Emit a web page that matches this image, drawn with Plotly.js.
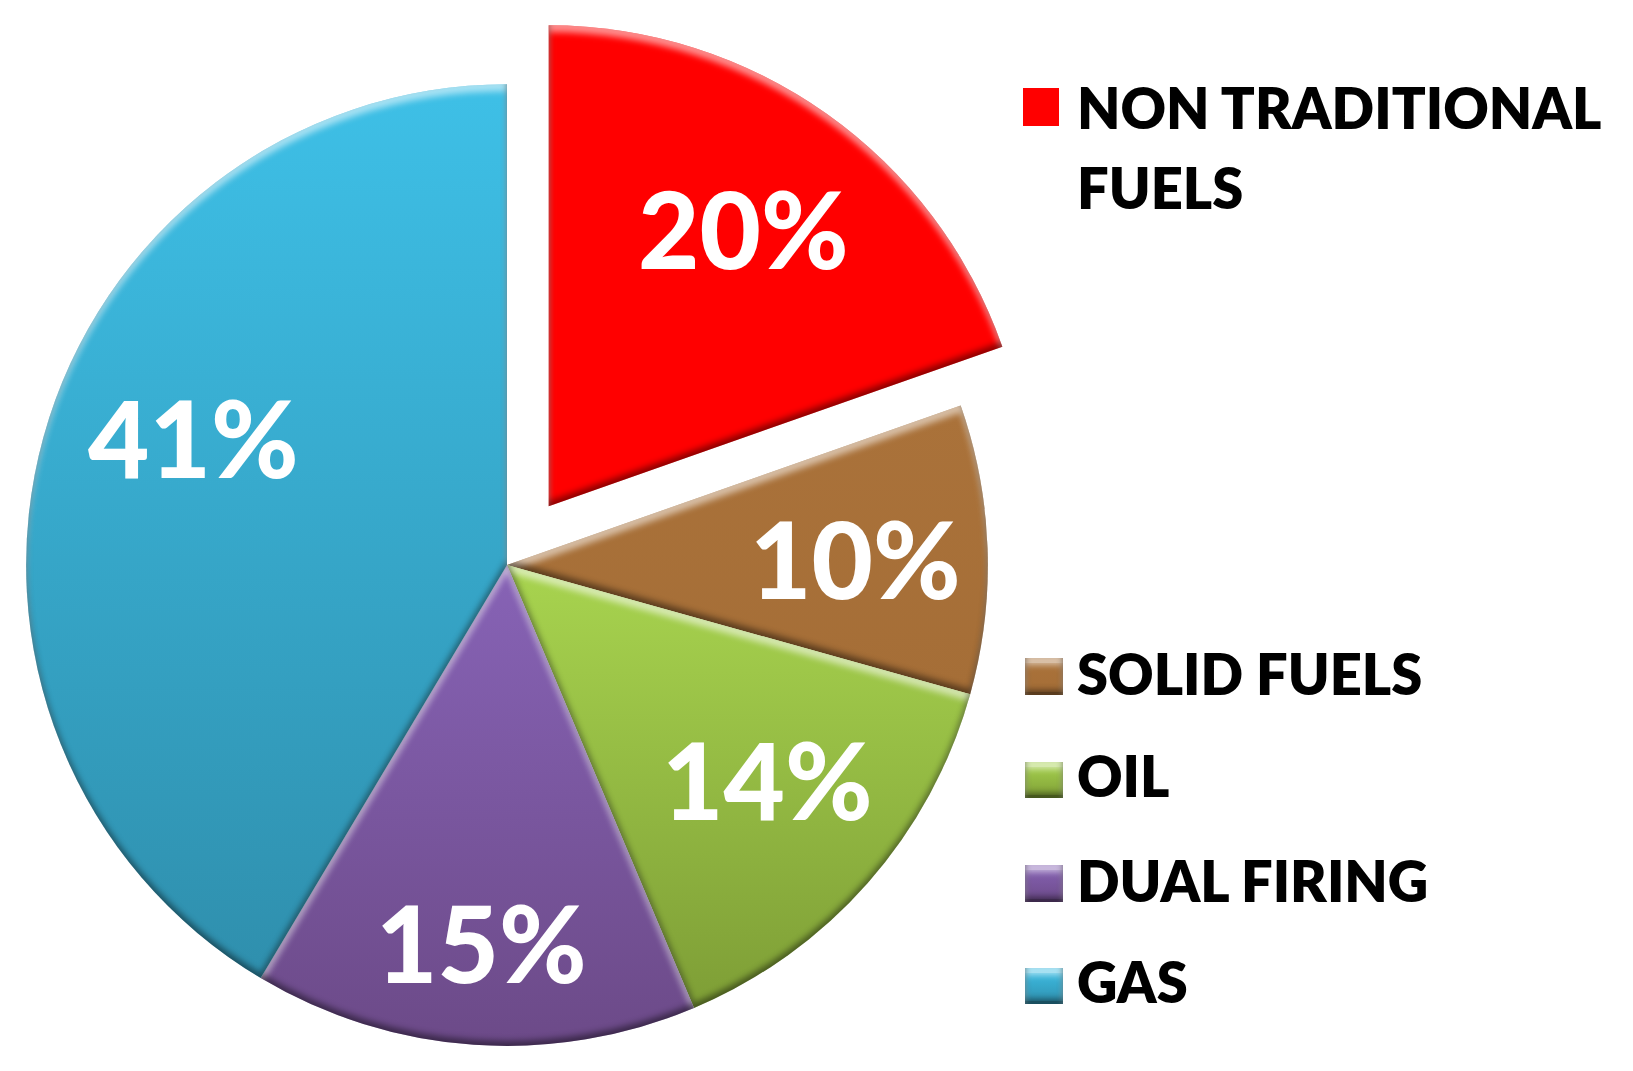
<!DOCTYPE html>
<html>
<head>
<meta charset="utf-8">
<script src="https://cdn.plot.ly/plotly-3.0.1.min.js"></script>
<style>
  html, body { margin: 0; padding: 0; width: 1633px; height: 1071px; overflow: hidden; background: #fff; }
  #graphDiv { position: absolute; left: -60px; top: 0; }
</style>
</head>
<body>
<svg width="0" height="0" style="position:absolute">
  <defs id="extraDefs">
    <filter id="bevel" x="-5%" y="-5%" width="110%" height="110%" color-interpolation-filters="sRGB">
      <feGaussianBlur in="SourceAlpha" stdDeviation="3" result="blur"/>
      <feOffset in="blur" dy="7" result="down"/>
      <feComposite in="SourceAlpha" in2="down" operator="out" result="topRim"/>
      <feFlood flood-color="#ffffff" flood-opacity="0.55"/>
      <feComposite in2="topRim" operator="in" result="light"/>
      <feOffset in="blur" dy="-5" result="up"/>
      <feComposite in="SourceAlpha" in2="up" operator="out" result="bottomRim"/>
      <feFlood flood-color="#000000" flood-opacity="0.45"/>
      <feComposite in2="bottomRim" operator="in" result="dark"/>
      <feMerge>
        <feMergeNode in="SourceGraphic"/>
        <feMergeNode in="light"/>
        <feMergeNode in="dark"/>
      </feMerge>
    </filter>
  </defs>
</svg>
<div id="graphDiv"></div>
<script>
const categories = ['NON TRADITIONAL<br>FUELS', 'SOLID FUELS', 'OIL', 'DUAL FIRING', 'GAS'];
const values = [19.6, 9.7, 14.3, 14.9, 41.4];
const pulls = [0.15, 0, 0, 0, 0];

const topColors = ['#ff0000', '#aa723a', '#a8d44f', '#8763b6', '#3ec0e7'];
const bottomColors = ['#ff0000', '#a56e37', '#7e9e36', '#6c4a88', '#2f8fad'];

// the sheet is a bit bigger than the window, the pie needs the room for its pull
const paperW = 1693, paperH = 1131, offsetX = 60;
const px = x => (x + offsetX) / paperW;
const py = y => 1 - y / paperH;

const total = values.reduce((a, b) => a + b, 0);
const percentLabels = values.map(v => Math.round(v / total * 100) + '%');

const labelX = [743, 855, 767, 481, 193];
const labelY = [228, 558, 779, 942, 437];
const swatchTop = [88, 658, 762, 865, 968];
const swatchBottom = [126, 695, 798, 902, 1004];
const swatchLeft = [1023, 1025, 1025, 1025, 1025];
const swatchRight = [1059, 1063, 1063, 1063, 1063];
const legendY = [[107, 187], [673], [775], [880], [982]];

const trace = {
  type: 'pie',
  labels: categories,
  values: values,
  sort: false,
  direction: 'clockwise',
  rotation: 0,
  pull: pulls,
  textinfo: 'none',
  showlegend: false,
  marker: { colors: topColors, line: { width: 0 } },
  domain: { x: [px(-46), px(1060)], y: [py(1118), py(12)] }
};

const pctAnnotations = percentLabels.map((t, i) => ({
  text: t, xref: 'paper', yref: 'paper', x: px(labelX[i]), y: py(labelY[i]),
  xanchor: 'center', yanchor: 'middle', showarrow: false,
  font: { family: 'Lato', size: 106, color: '#ffffff', weight: 900 }
}));

const legendAnnotations = categories.flatMap((t, i) => t.split('<br>').map((line, n) => ({
  text: line, xref: 'paper', yref: 'paper', x: px(1075), y: py(legendY[i][n]),
  xanchor: 'left', yanchor: 'middle', align: 'left', showarrow: false,
  font: { family: 'Lato', size: 56, color: '#000000', weight: 800 }
})));

const swatches = categories.map((t, i) => ({
  type: 'rect', xref: 'paper', yref: 'paper',
  x0: px(swatchLeft[i]), x1: px(swatchRight[i]),
  y0: py(swatchBottom[i]), y1: py(swatchTop[i]),
  fillcolor: topColors[i], line: { width: 0 }
}));

const layout = {
  width: paperW,
  height: paperH,
  margin: { l: 0, r: 0, t: 0, b: 0 },
  paper_bgcolor: '#ffffff',
  annotations: pctAnnotations.concat(legendAnnotations),
  shapes: swatches
};

function addGradients() {
  const defs = document.getElementById('extraDefs');
  const ns = 'http://www.w3.org/2000/svg';
  topColors.forEach((c, i) => {
    const g = document.createElementNS(ns, 'linearGradient');
    g.setAttribute('id', 'grad' + i);
    g.setAttribute('x1', 0); g.setAttribute('y1', 0);
    g.setAttribute('x2', 0); g.setAttribute('y2', 1);
    [[0, c], [1, bottomColors[i]]].forEach(s => {
      const stop = document.createElementNS(ns, 'stop');
      stop.setAttribute('offset', s[0]);
      stop.setAttribute('stop-color', s[1]);
      g.appendChild(stop);
    });
    defs.appendChild(g);
  });
  document.querySelectorAll('#graphDiv .slice path.surface').forEach((p, i) => {
    p.style.fill = 'url(#grad' + i + ')';
    p.style.filter = 'url(#bevel)';
  });
  document.querySelectorAll('#graphDiv .shapelayer path').forEach((p, i) => {
    p.style.fill = 'url(#grad' + i + ')';
    if (i > 0) p.style.filter = 'url(#bevel)';
  });
}

Plotly.newPlot('graphDiv', [trace], layout, { staticPlot: true }).then(addGradients);
</script>
</body>
</html>
